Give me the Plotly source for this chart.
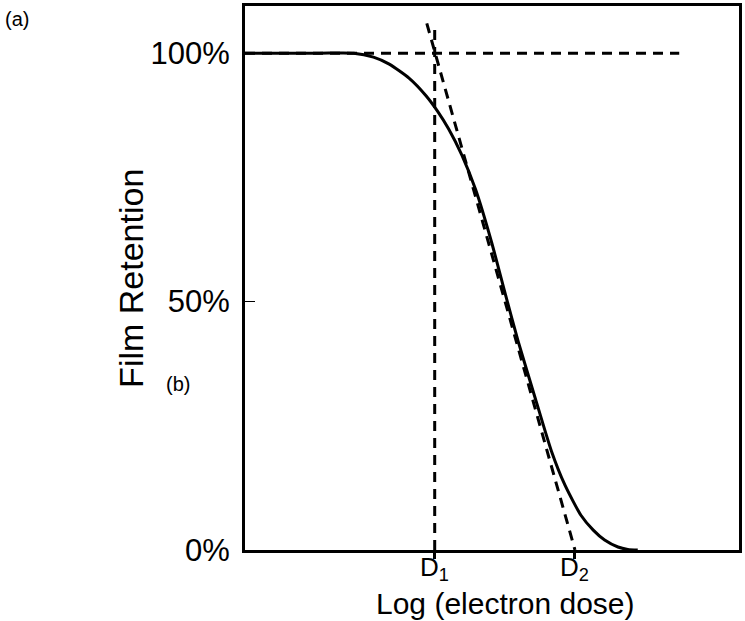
import plotly.graph_objects as go

# Curve: film retention (%) vs log(electron dose) (arbitrary units 0..10)
dose = [0.0, 1.5, 2.2, 2.6, 2.92, 3.32, 3.66, 3.9, 4.12, 4.39, 4.67, 4.99, 5.27, 5.53, 5.88,
        6.20, 6.48, 6.80, 7.05, 7.28, 7.55, 7.75, 7.95]
retention = [100, 100, 100, 99.2, 97.8, 95, 91.5, 88.3, 84.8, 79.5, 72.5, 62, 51.5, 42, 30.4,
             20, 13, 7, 4, 2.0, 0.6, 0.12, 0]

# Construction lines
top_x = [0.0, 8.79]
top_y = [100, 100]
d1_x = [3.84, 3.84]
d1_y = [0, 106]
tan_x = [3.68, 6.68]
tan_y = [106, 0]

tick_labels_y = ["0%", "50%", "100%"]
tick_vals_y = [0, 50, 100]
d_vals = [3.84, 6.68]
d_labels = ["D<sub>1</sub>", "D<sub>2</sub>"]

FONT = "Liberation Sans, Arial, Helvetica, sans-serif"
dash = "10px,7px"

fig = go.Figure()
fig.add_trace(go.Scatter(x=top_x, y=top_y, mode="lines",
                         line=dict(color="black", width=3, dash=dash), hoverinfo="skip"))
fig.add_trace(go.Scatter(x=d1_x, y=d1_y, mode="lines",
                         line=dict(color="black", width=3, dash=dash), hoverinfo="skip"))
fig.add_trace(go.Scatter(x=tan_x, y=tan_y, mode="lines",
                         line=dict(color="black", width=3, dash=dash), hoverinfo="skip"))
fig.add_trace(go.Scatter(x=dose, y=retention, mode="lines",
                         line=dict(color="black", width=3, shape="spline", smoothing=0.6)))

fig.update_layout(
    width=745, height=621,
    margin=dict(l=245, r=3, t=5, b=71),
    paper_bgcolor="white", plot_bgcolor="white",
    showlegend=False,
    font=dict(family=FONT, color="black"),
)
fig.update_xaxes(
    range=[0, 10], showgrid=False, zeroline=False,
    showline=True, linecolor="black", linewidth=3, mirror=True,
    tickvals=d_vals, ticktext=["", ""], ticks="outside", ticklen=6,
    tickwidth=2.5, tickcolor="black",
)
fig.update_yaxes(
    range=[0, 109.5], showgrid=False, zeroline=False,
    showline=True, linecolor="black", linewidth=3, mirror=True,
    tickvals=tick_vals_y, ticktext=tick_labels_y, ticks="inside", ticklen=10,
    tickwidth=1, tickcolor="black", tickfont=dict(size=31, family=FONT),
    ticklabelstandoff=6,
)
for xv, lab in zip(d_vals, d_labels):
    fig.add_annotation(text=lab, x=xv, xref="x", yref="paper", y=0.0,
                       xanchor="center", yanchor="top", showarrow=False,
                       font=dict(size=26, family=FONT))
fig.add_annotation(text="Log (electron dose)", xref="paper", yref="paper",
                   x=0.527, y=-0.099, xanchor="center", yanchor="middle",
                   showarrow=False, font=dict(size=30, family=FONT))
fig.add_annotation(text="Film Retention", xref="paper", yref="paper",
                   x=-0.231, y=0.5, xanchor="center", yanchor="middle", textangle=-90,
                   showarrow=False, font=dict(size=34, family=FONT))
fig.add_annotation(text="(a)", xref="paper", yref="paper",
                   x=-0.462, y=0.976, xanchor="center", yanchor="middle",
                   showarrow=False, font=dict(size=20, family=FONT))
fig.add_annotation(text="(b)", xref="paper", yref="paper",
                   x=-0.136, y=0.306, xanchor="center", yanchor="middle",
                   showarrow=False, font=dict(size=20, family=FONT))

fig.write_html("out.html", config={"displayModeBar": False},
               post_script="document.body.style.margin='0';")
